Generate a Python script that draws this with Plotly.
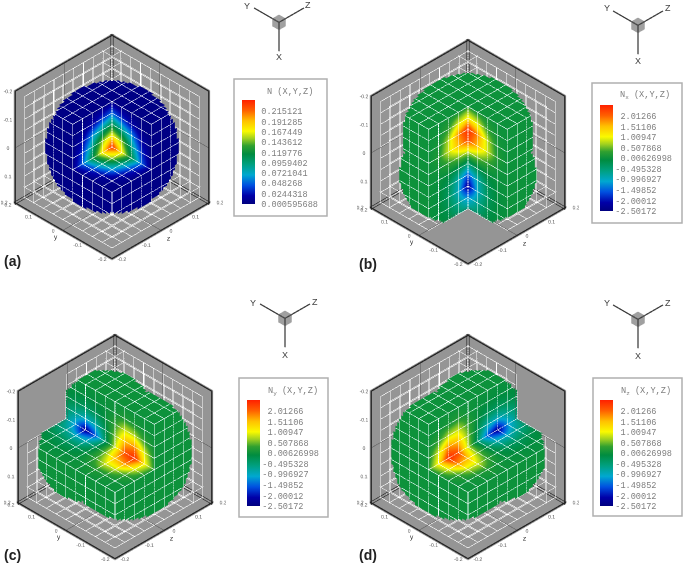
import numpy as np
import plotly.graph_objects as go

W, H = 685, 566
# ---- data ----
PANEL_NAMES = ["a", "b", "c", "d"]
PANEL_CENTERS = [(112, 147), (468, 152), (115, 447), (468, 447)]
TRIAD_CENTERS = [(279, 21), (638, 24), (285, 317), (638, 318)]
TRIAD_LABEL_TEXT = ["X", "Y", "Z"]
TRIAD_LABEL_POS = [
    [(279, 57), (247, 6), (308, 5)],
    [(638, 61), (607, 8), (668, 8)],
    [(285, 355), (253, 303), (315, 302)],
    [(638, 356), (607, 303), (668, 303)],
]
COLORBAR_BOXES = [(234, 79, 327, 216), (592, 83, 682, 223), (239, 378, 328, 517), (593, 378, 682, 516)]
COLORBAR_BARS = [(242, 100, 204), (600, 105, 211), (247, 400, 506), (600, 400, 506)]
COLORBAR_TITLE_POS = [(290, 92), (645, 96), (293, 391), (646, 391)]
LABEL_POS = [(2, 261), (357, 264), (2, 555), (357, 555)]
COLORBAR_TITLES = ["N (X,Y,Z)", "N<sub>x</sub> (X,Y,Z)", "N<sub>y</sub> (X,Y,Z)", "N<sub>z</sub> (X,Y,Z)"]

N_LEVELS = [0.215121, 0.191285, 0.167449, 0.143612, 0.119776, 0.0959402, 0.0721041, 0.048268, 0.0244318, 0.000595688]
N_LABELS = ["0.215121", "0.191285", "0.167449", "0.143612", "0.119776", "0.0959402", "0.0721041", "0.048268", "0.0244318", "0.000595688"]
N_RANGE = (0.000595688, 0.2417)
DN_LEVELS = [2.01266, 1.51106, 1.00947, 0.507868, 0.00626998, -0.495328, -0.996927, -1.49852, -2.00012, -2.50172]
DN_LABELS = ["\u00a02.01266", "\u00a01.51106", "\u00a01.00947", "\u00a00.507868", "\u00a00.00626998", "-0.495328", "-0.996927", "-1.49852", "-2.00012", "-2.50172"]
DN_RANGE = (-2.50172, 2.556)

TICK_VALUES = [-0.2, -0.1, 0.0, 0.1, 0.2]
TICK_TEXT = ["-0.2", "-0.1", "0", "0.1", "0.2"]
GRID_EDGES = [-0.2, -0.16, -0.12, -0.08, -0.04, 0.0, 0.04, 0.08, 0.12, 0.16, 0.2]

# density on the three cut planes, by distance from the centre in cell widths
N_FACE = [
    [0.240, 0.175, 0.112, 0.048, 0.006],
    [0.175, 0.150, 0.090, 0.034, 0.004],
    [0.112, 0.090, 0.060, 0.018, 0.003],
    [0.048, 0.034, 0.018, 0.006, 0.003],
    [0.006, 0.004, 0.003, 0.003, 0.003],
]
N_OUTER = 0.004

# derivative on the two cut planes: rows along the lobe axis (-0.16 .. 0.2), columns away from the centre line
DN_FACE = [
    [0.25, 0.15, 0.06, 0.03, 0.03],
    [1.15, 0.90, 0.30, 0.06, 0.03],
    [2.50, 1.80, 0.75, 0.12, 0.03],
    [2.20, 1.50, 0.85, 0.20, 0.03],
    [0.80, 0.55, 0.30, 0.06, 0.03],
    [-0.40, -0.22, -0.05, 0.00, 0.03],
    [-1.60, -0.85, -0.25, -0.03, 0.02],
    [-2.35, -0.95, -0.30, -0.05, 0.00],
    [-1.25, -0.65, -0.20, -0.03, 0.00],
    [-0.60, -0.35, -0.10, -0.02, 0.00],
]
DN_OUTER = 0.03

# outline radius around the centre, every 22.5 degrees clockwise from the hot end (mirrored)
LOBE_OUTLINE = [0.226, 0.2235, 0.215, 0.202, 0.183, 0.214, 0.227, 0.214, 0.207]
SPHERE_OUTLINE = [0.191] * 9

SCALE = [[0.00, "#00007f"], [0.08, "#0000a8"], [0.18, "#0050e0"], [0.28, "#00a8d0"], [0.38, "#00a080"],
         [0.48, "#008c40"], [0.56, "#30a030"], [0.63, "#a0d020"], [0.70, "#fafa00"], [0.80, "#ffc000"],
         [0.90, "#ff6000"], [1.00, "#ff2000"]]
WALL_COLOR = "#959595"
LATTICE_COLOR = "rgba(245,245,245,0.85)"
LATTICE2_COLOR = "rgba(245,245,245,0.5)"
CELL_LINE_COLOR = "rgba(235,240,235,0.6)"
TEXT_GRAY = "#808080"

# ---- camera ----
EYE_K = 1.25
ASPECT = 1.53
TRIAD_ASPECT = 2.65
TRIAD_SHIFT = 0.54
UP = (-1, 0, 0)
v_dir = np.array([-1, -1, -1]) / np.sqrt(3)
up_dir = np.array([-2, 1, 1]) / np.sqrt(6)
right_dir = np.array([0, -1, 1]) / np.sqrt(2)
SCENE_W, SCENE_H = 222, 236
TRIAD_W, TRIAD_H = 90, 80
BOX = 0.26
CELL = 0.04
SUB = 5
edges = np.array(GRID_EDGES)
n = len(edges) - 1


def outline_radius(theta, table):
    t = np.degrees(theta) % 360
    if t > 180:
        t = 360 - t
    return np.interp(t, np.arange(9) * 22.5, table)


def inside(p, shift, table):
    r = p @ right_dir
    u = p @ up_dir
    th = np.arctan2(r, u) - np.radians(shift)
    return np.hypot(r, u) <= outline_radius(th, table)


def bilinear(tab, a, b):
    tab = np.asarray(tab)
    a = np.clip(a, 0, tab.shape[0] - 1)
    b = np.clip(b, 0, tab.shape[1] - 1)
    ia = min(int(a), tab.shape[0] - 2)
    ib = min(int(b), tab.shape[1] - 2)
    fa, fb = a - ia, b - ib
    return (tab[ia, ib] * (1 - fa) * (1 - fb) + tab[ia + 1, ib] * fa * (1 - fb)
            + tab[ia, ib + 1] * (1 - fa) * fb + tab[ia + 1, ib + 1] * fa * fb)


def field(panel, ax, p):
    e = 1e-9
    if panel == "a":
        if abs(p[ax]) < e:
            o = [i for i in range(3) if i != ax]
            if p[o[0]] < e and p[o[1]] < e:
                return bilinear(N_FACE, -p[o[0]] / CELL, -p[o[1]] / CELL)
        return N_OUTER
    L = {"b": 0, "c": 1, "d": 2}[panel]
    o = [i for i in range(3) if i != L]
    if ax != L and abs(p[ax]) < e:
        other = o[0] if ax == o[1] else o[1]
        if p[other] < e:
            return bilinear(DN_FACE, (p[L] + 0.16) / CELL, -p[other] / CELL)
    return DN_OUTER


def build_panel(panel):
    filled = np.zeros((n, n, n), bool)
    filled[1:, 1:, 1:] = True
    c = (edges[:-1] + edges[1:]) / 2
    X, Y, Z = np.meshgrid(c, c, c, indexing="ij")
    if panel == "a":
        filled[(X < 0) & (Y < 0) & (Z < 0)] = False
        shift, table = 0, SPHERE_OUTLINE
    else:
        L = {"b": 0, "c": 1, "d": 2}[panel]
        A, B = [[Y, Z], [X, Z], [X, Y]][L]
        filled[(A < 0) & (B < 0)] = False
        shift = {"b": 0, "c": 120, "d": -120}[panel]
        table = LOBE_OUTLINE
    vx, vy, vz, ii, jj, kk, vals = [], [], [], [], [], [], []
    lx, ly, lz = [], [], []
    off = v_dir * 0.005
    s = np.linspace(0, 1, SUB + 1)
    seen = set()

    def seg(a, b):
        key = tuple(np.round(np.r_[a, b], 4))
        if key in seen:
            return
        seen.add(key)
        run = []
        for t0, t1 in zip(s[:-1], s[1:]):
            m = a + (b - a) * (t0 + t1) / 2
            if inside(m, shift, table):
                if not run:
                    run.append(a + (b - a) * t0 + off)
                run.append(a + (b - a) * t1 + off)
            elif run:
                break
        if len(run) > 1:
            lx.extend([run[0][0], run[-1][0], None])
            ly.extend([run[0][1], run[-1][1], None])
            lz.extend([run[0][2], run[-1][2], None])

    for idx in np.argwhere(filled):
        for ax in range(3):
            prev = idx.copy()
            prev[ax] -= 1
            if prev[ax] >= 0 and filled[tuple(prev)]:
                continue
            o = [i for i in range(3) if i != ax]
            origin = np.zeros(3)
            origin[ax] = edges[idx[ax]]
            origin[o[0]] = edges[idx[o[0]]]
            origin[o[1]] = edges[idx[o[1]]]
            d0 = np.zeros(3)
            d0[o[0]] = CELL
            d1 = np.zeros(3)
            d1[o[1]] = CELL
            for a0, a1 in zip(s[:-1], s[1:]):
                for b0, b1 in zip(s[:-1], s[1:]):
                    ctr = origin + d0 * (a0 + a1) / 2 + d1 * (b0 + b1) / 2
                    if not inside(ctr, shift, table):
                        continue
                    base = len(vx)
                    for aa, bb in [(a0, b0), (a1, b0), (a1, b1), (a0, b1)]:
                        q = origin + d0 * aa + d1 * bb
                        vx.append(q[0]); vy.append(q[1]); vz.append(q[2])
                        vals.append(field(panel, ax, q))
                    ii += [base, base]; jj += [base + 1, base + 2]; kk += [base + 2, base + 3]
            seg(origin, origin + d0); seg(origin, origin + d1)
            seg(origin + d0, origin + d0 + d1); seg(origin + d1, origin + d0 + d1)
    return filled, (vx, vy, vz, ii, jj, kk, vals), (lx, ly, lz)


def wall_traces(filled, scene):
    traces = []
    lo, hi = edges[0], edges[-1]
    vx, vy, vz, ii, jj, kk = [], [], [], [], [], []
    lat = ([], [], [])
    lat2 = ([], [], [])
    dark = ([], [], [])
    heavy = ([], [], [])
    for ax in range(3):
        o = [i for i in range(3) if i != ax]
        base = len(vx)
        for a, b in [(lo, lo), (hi, lo), (hi, hi), (lo, hi)]:
            p = [0, 0, 0]
            p[ax] = hi; p[o[0]] = a; p[o[1]] = b
            vx.append(p[0]); vy.append(p[1]); vz.append(p[2])
        ii += [base, base]; jj += [base + 1, base + 2]; kk += [base + 2, base + 3]
        col = filled.any(axis=ax)

        def add(store, a0, b0, a1, b1, eps):
            for a, b in [(a0, b0), (a1, b1)]:
                p = [0, 0, 0]
                p[ax] = hi - eps; p[o[0]] = a; p[o[1]] = b
                for t in range(3):
                    store[t].append(p[t])
            for t in range(3):
                store[t].append(None)

        # lattice where a column of cells exists: on the wall and one cell in front of it
        for i in range(n + 1):
            for j in range(n):
                if (i < n and col[i, j]) or (i > 0 and col[i - 1, j]):
                    add(lat, edges[i], edges[j], edges[i], edges[j + 1], 0.004)
                    add(lat2, edges[i], edges[j], edges[i], edges[j + 1], CELL)
                if (i < n and col[j, i]) or (i > 0 and col[j, i - 1]):
                    add(lat, edges[j], edges[i], edges[j + 1], edges[i], 0.004)
                    add(lat2, edges[j], edges[i], edges[j + 1], edges[i], CELL)
        add(dark, 0, lo, 0, hi, 0.006); add(dark, lo, 0, hi, 0, 0.006)
        add(heavy, lo, lo, hi, lo, 0.006); add(heavy, lo, hi, hi, hi, 0.006)
        add(heavy, lo, lo, lo, hi, 0.006); add(heavy, hi, lo, hi, hi, 0.006)
    light = dict(ambient=1, diffuse=0, specular=0, fresnel=0, roughness=1)
    traces.append(go.Mesh3d(x=vx, y=vy, z=vz, i=ii, j=jj, k=kk, color=WALL_COLOR, lighting=light,
                            hoverinfo="skip", scene=scene, showscale=False))
    traces.append(go.Scatter3d(x=lat[0], y=lat[1], z=lat[2], mode="lines", line=dict(color=LATTICE_COLOR, width=1.2),
                               hoverinfo="skip", showlegend=False, scene=scene))
    traces.append(go.Scatter3d(x=lat2[0], y=lat2[1], z=lat2[2], mode="lines", line=dict(color=LATTICE2_COLOR, width=1),
                               hoverinfo="skip", showlegend=False, scene=scene))
    traces.append(go.Scatter3d(x=dark[0], y=dark[1], z=dark[2], mode="lines", line=dict(color="#555555", width=1),
                               hoverinfo="skip", showlegend=False, scene=scene))
    traces.append(go.Scatter3d(x=heavy[0], y=heavy[1], z=heavy[2], mode="lines", line=dict(color="#222222", width=2.5),
                               hoverinfo="skip", showlegend=False, scene=scene))
    return traces


def tick_trace(scene):
    lo, hi = edges[0], edges[-1]
    xs, ys, zs, ts = [], [], [], []
    for v, t in zip(TICK_VALUES, TICK_TEXT):
        xs.append(v + 0.028); ys.append(hi + 0.012); zs.append(lo - 0.012); ts.append(t)
        xs.append(hi); ys.append(v); zs.append(lo - 0.04); ts.append(t)
        xs.append(hi); ys.append(lo - 0.04); zs.append(v); ts.append(t)
    small = go.Scatter3d(x=xs, y=ys, z=zs, text=ts, mode="text", textfont=dict(size=5, color="#555555", family="Liberation Sans"),
                         hoverinfo="skip", showlegend=False, scene=scene)
    big = go.Scatter3d(x=[0.03, hi + 0.04, hi + 0.04], y=[hi + 0.03, 0.0, lo - 0.03], z=[lo - 0.03, lo - 0.03, 0.0],
                       text=["x", "y", "z"], mode="text", textfont=dict(size=7, color="#333333", family="Liberation Sans"),
                       hoverinfo="skip", showlegend=False, scene=scene)
    return [small, big]


fig = go.Figure()
layout = {}
annots = []
shapes = []
light = dict(ambient=1, diffuse=0, specular=0, fresnel=0, roughness=1)
axis_off = dict(visible=False, showspikes=False)

for p, name in enumerate(PANEL_NAMES):
    scene = "scene" if p == 0 else f"scene{p + 1}"
    filled, mesh, lines = build_panel(name)
    for tr in wall_traces(filled, scene):
        fig.add_trace(tr)
    vx, vy, vz, ii, jj, kk, vals = mesh
    cmin, cmax = N_RANGE if name == "a" else DN_RANGE
    levels = N_LEVELS if name == "a" else DN_LEVELS
    labels = N_LABELS if name == "a" else DN_LABELS
    bx0, by0, bx1, by1 = COLORBAR_BOXES[p]
    barx, bary0, bary1 = COLORBAR_BARS[p]
    shapes.append(dict(type="rect", xref="paper", yref="paper", x0=bx0 / W, x1=bx1 / W, y0=1 - by1 / H, y1=1 - by0 / H,
                       line=dict(color="#b0b0b0", width=1.5), fillcolor="white", layer="below"))
    fig.add_trace(go.Mesh3d(
        x=np.round(vx, 4), y=np.round(vy, 4), z=np.round(vz, 4), i=ii, j=jj, k=kk,
        intensity=np.round(vals, 4), intensitymode="vertex", colorscale=SCALE, cmin=cmin, cmax=cmax,
        lighting=light, hoverinfo="skip", scene=scene,
        colorbar=dict(
            x=barx / W, y=1 - bary0 / H, xanchor="left", yanchor="top", xref="container", yref="container",
            thicknessmode="pixels", thickness=13, lenmode="pixels", len=bary1 - bary0,
            xpad=0, ypad=0, outlinewidth=0, borderwidth=0, bgcolor="rgba(0,0,0,0)",
            tickmode="array", tickvals=levels, ticktext=labels, ticks="outside",
            ticklen=5 if name == "a" else 1, tickcolor="rgba(0,0,0,0)",
            tickfont=dict(family="Liberation Mono", size=8.6, color=TEXT_GRAY),
        ),
    ))
    fig.add_trace(go.Scatter3d(x=lines[0], y=lines[1], z=lines[2], mode="lines", line=dict(color=CELL_LINE_COLOR, width=1.2),
                               hoverinfo="skip", showlegend=False, scene=scene))
    for tr in tick_trace(scene):
        fig.add_trace(tr)
    cx, cy = PANEL_CENTERS[p]
    layout[scene] = dict(
        domain=dict(x=[(cx - SCENE_W / 2) / W, (cx + SCENE_W / 2) / W], y=[1 - (cy + SCENE_H / 2) / H, 1 - (cy - SCENE_H / 2) / H]),
        xaxis=dict(range=[-BOX, BOX], **axis_off), yaxis=dict(range=[-BOX, BOX], **axis_off), zaxis=dict(range=[-BOX, BOX], **axis_off),
        aspectmode="manual", aspectratio=dict(x=ASPECT, y=ASPECT, z=ASPECT), bgcolor="rgba(0,0,0,0)",
        camera=dict(eye=dict(x=-EYE_K, y=-EYE_K, z=-EYE_K), center=dict(x=0, y=0, z=0), up=dict(x=UP[0], y=UP[1], z=UP[2]),
                    projection=dict(type="orthographic")),
    )
    annots.append(dict(text=f"<b>({name})</b>", x=LABEL_POS[p][0] / W, y=1 - LABEL_POS[p][1] / H, xref="paper", yref="paper",
                       xanchor="left", yanchor="middle", showarrow=False, font=dict(family="Liberation Sans", size=14, color="#222222")))
    annots.append(dict(text=COLORBAR_TITLES[p], x=COLORBAR_TITLE_POS[p][0] / W, y=1 - COLORBAR_TITLE_POS[p][1] / H, xref="paper", yref="paper",
                       xanchor="center", yanchor="middle", showarrow=False, font=dict(family="Liberation Mono", size=8.6, color=TEXT_GRAY)))
    for t, (lab_x, lab_y) in zip(TRIAD_LABEL_TEXT, TRIAD_LABEL_POS[p]):
        annots.append(dict(text=t, x=lab_x / W, y=1 - lab_y / H, xref="paper", yref="paper", xanchor="center", yanchor="middle",
                           showarrow=False, font=dict(family="Liberation Sans", size=9, color="#444444")))

# axis triads
TRIAD_LEN = 1.0
CUBE = 0.27
for p in range(4):
    scene = f"scene{p + 5}"
    tx, ty = TRIAD_CENTERS[p]
    d = CUBE
    cv = [(a, b, c) for a in (0, d) for b in (0, d) for c in (0, d)]
    fig.add_trace(go.Mesh3d(x=[q[0] for q in cv], y=[q[1] for q in cv], z=[q[2] for q in cv],
                            i=[0, 0, 0, 0, 0, 0, 7, 7, 7, 7, 7, 7], j=[1, 3, 1, 5, 2, 6, 3, 2, 5, 1, 6, 4], k=[3, 2, 5, 4, 6, 4, 2, 6, 1, 3, 4, 5],
                            color="#a0a0a0", lighting=light, hoverinfo="skip", scene=scene, showscale=False))
    lx = [0, TRIAD_LEN, None, 0, 0, None, 0, 0]
    ly = [0, 0, None, 0, TRIAD_LEN, None, 0, 0]
    lz = [0, 0, None, 0, 0, None, 0, TRIAD_LEN]
    fig.add_trace(go.Scatter3d(x=lx, y=ly, z=lz, mode="lines", line=dict(color="#3a3a3a", width=2.5), hoverinfo="skip", showlegend=False, scene=scene))
    top = max(ty - 21, 0)
    layout[scene] = dict(
        domain=dict(x=[(tx - TRIAD_W / 2) / W, (tx + TRIAD_W / 2) / W], y=[1 - (top + TRIAD_H) / H, 1 - top / H]),
        xaxis=dict(range=[-1.5, 1.5], **axis_off), yaxis=dict(range=[-1.5, 1.5], **axis_off), zaxis=dict(range=[-1.5, 1.5], **axis_off),
        aspectmode="manual", aspectratio=dict(x=TRIAD_ASPECT, y=TRIAD_ASPECT, z=TRIAD_ASPECT), bgcolor="rgba(0,0,0,0)",
        camera=dict(eye=dict(x=TRIAD_SHIFT - EYE_K, y=-EYE_K, z=-EYE_K), center=dict(x=TRIAD_SHIFT, y=0, z=0), up=dict(x=UP[0], y=UP[1], z=UP[2]),
                    projection=dict(type="orthographic")),
    )

fig.update_layout(width=W, height=H, margin=dict(l=0, r=0, t=0, b=0, autoexpand=False), paper_bgcolor="white", plot_bgcolor="white",
                  showlegend=False, annotations=annots, shapes=shapes, **layout)
fig.write_html("out.html", config=dict(displayModeBar=False),
               post_script="document.body.style.margin='0';document.querySelector('.plotly-graph-div').style.filter='blur(0.6px)';")
